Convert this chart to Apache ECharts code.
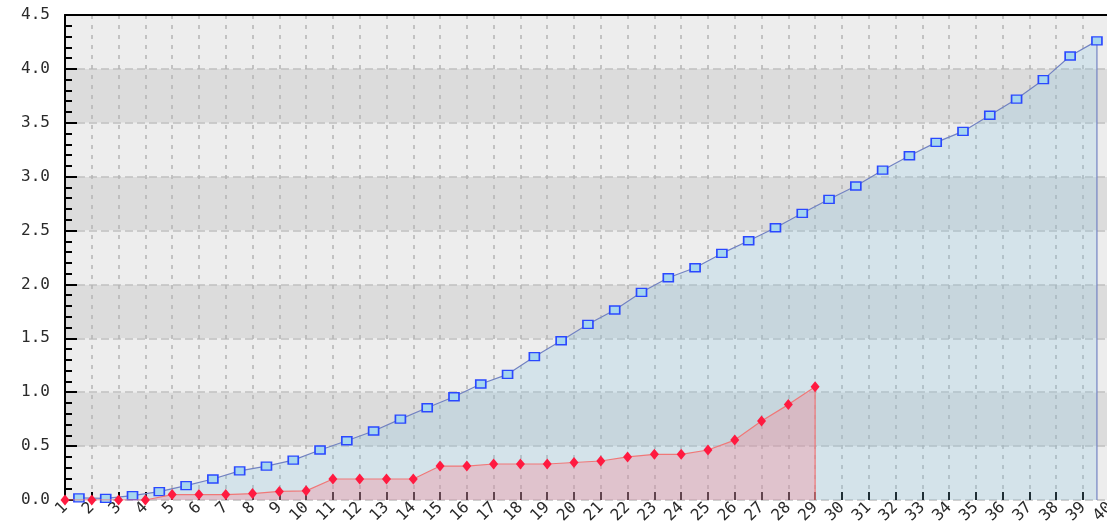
<!DOCTYPE html>
<html>
<head>
<meta charset="utf-8">
<script src="https://cdn.jsdelivr.net/npm/echarts@6/dist/echarts.min.js"></script>
<style>
html,body{margin:0;padding:0;background:#fff;}
#chart{width:1107px;height:524px;}
</style>
</head>
<body>
<div id="chart"></div>
<script>
// x-axis tick labels (categories)
const xLabels = ['1','2','3','4','5','6','7','8','9','10','11','12','13','14','15','16','17','18','19','20',
  '21','22','23','24','25','26','27','28','29','30','31','32','33','34','35','36','37','38','39','40'];
// y-axis tick labels
const yLabels = ['0.0','0.5','1.0','1.5','2.0','2.5','3.0','3.5','4.0','4.5'];
// blue series (39 points, drawn between categories)
const blueValues = [0.02,0.015,0.04,0.077,0.133,0.195,0.27,0.315,0.37,0.464,
  0.55,0.64,0.75,0.856,0.958,1.076,1.166,1.33,1.478,1.63,
  1.763,1.927,2.062,2.155,2.288,2.405,2.526,2.66,2.79,2.913,
  3.06,3.194,3.318,3.42,3.57,3.72,3.90,4.12,4.26];
// red series (categories 1..29)
const redValues = [0,0,0,0,0.05,0.05,0.05,0.06,0.08,0.085,
  0.195,0.195,0.195,0.195,0.315,0.315,0.334,0.334,0.334,0.348,
  0.362,0.40,0.424,0.424,0.464,0.556,0.733,0.885,1.05];

const blueOffset = 0.52; // blue points sit between category ticks

const blueData = blueValues.map((v, i) => [i + 1 + blueOffset, v]);
const lastBlueX = blueValues.length + blueOffset;
blueData.push({value: [lastBlueX, 0], symbol: 'none'});

const redData = redValues.map((v, i) => [Number(xLabels[i]), v]);
redData.push({value: [redValues.length, 0], symbol: 'none'});

const chart = echarts.init(document.getElementById('chart'), null, {renderer: 'canvas'});
const labelFont = {fontFamily: 'DejaVu Sans Mono', fontSize: 16, color: '#2a2a2a'};

chart.setOption({
  animation: false,
  backgroundColor: '#ffffff',
  grid: {left: 65, top: 15, width: 1044.8, height: 485, containLabel: false, outerBoundsMode: 'none'},
  xAxis: [{
    type: 'value', min: 1, max: 40, interval: 1,
    axisLine: {show: false},
    axisTick: {show: true, inside: true, length: 8, lineStyle: {color: '#000', width: 2}},
    axisLabel: Object.assign({
      rotate: 45, margin: 5,
      formatter: v => xLabels[v - 1] || ''
    }, labelFont),
    splitLine: {show: true, lineStyle: {color: '#b4b4b4', type: [4, 6], width: 1.5}}
  }, {
    type: 'value', position: 'top', min: 1, max: 40,
    axisLine: {show: true, onZero: false, lineStyle: {color: '#000', width: 2}},
    axisTick: {show: false}, axisLabel: {show: false}, splitLine: {show: false}
  }],
  yAxis: {
    type: 'value', min: 0, max: 4.5, interval: 0.5,
    axisLine: {show: true, lineStyle: {color: '#000', width: 2}},
    axisTick: {show: true, inside: true, length: 12, lineStyle: {color: '#000', width: 2}},
    minorTick: {show: true, splitNumber: 5, length: 7, lineStyle: {color: '#000', width: 2}},
    axisLabel: Object.assign({
      margin: 15,
      formatter: v => yLabels[Math.round(v / 0.5)]
    }, labelFont),
    splitLine: {show: true, lineStyle: {color: '#c0c0c0', type: [8, 4], width: 1.5}},
    splitArea: {show: true, areaStyle: {color: ['#ededed', '#dcdcdc']}}
  },
  series: [{
    type: 'line', name: 'blue', data: blueData,
    symbol: 'rect', symbolSize: [10, 8], showAllSymbol: true,
    lineStyle: {color: '#7282c2', width: 1.2},
    itemStyle: {color: '#a6d6ee', borderColor: '#2a48ff', borderWidth: 1.5},
    areaStyle: {color: 'rgba(135,195,225,0.34)', origin: 'start'},
    z: 2
  }, {
    type: 'line', name: 'red', data: redData,
    symbol: 'diamond', symbolSize: [9, 11], showAllSymbol: true,
    lineStyle: {color: '#f07878', width: 1.2},
    itemStyle: {color: '#ff1a40', borderWidth: 0},
    areaStyle: {color: 'rgba(255,120,135,0.42)', origin: 'start'},
    z: 3
  }]
});
</script>
</body>
</html>
